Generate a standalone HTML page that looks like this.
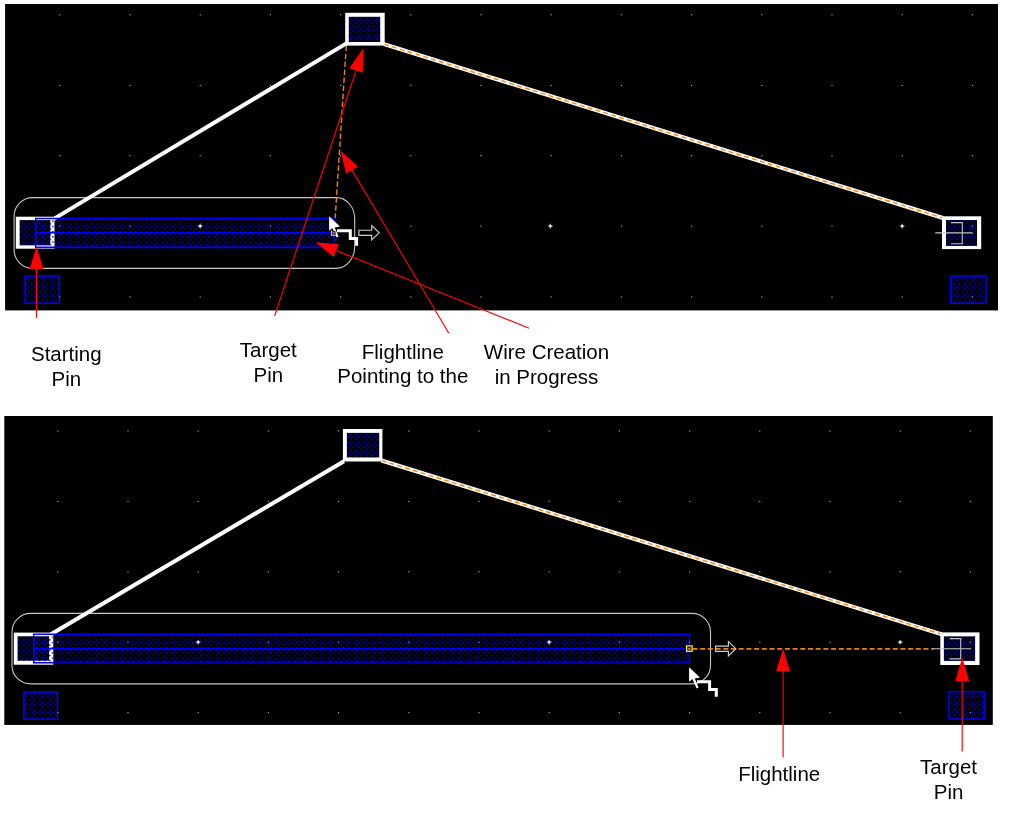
<!DOCTYPE html>
<html>
<head>
<meta charset="utf-8">
<title>Wire creation flightline</title>
<style>
html,body{margin:0;padding:0;background:#fff;}
body{width:1013px;height:820px;overflow:hidden;font-family:"Liberation Sans",sans-serif;}
svg{display:block;will-change:transform;}
text{font-family:"Liberation Sans",sans-serif;font-size:20.5px;fill:#000;text-anchor:middle;}
</style>
</head>
<body>
<svg width="1013" height="820" viewBox="0 0 1013 820">
<defs>
  <pattern id="d0" x="0.16" y="2.16" width="5.2" height="5.2" patternUnits="userSpaceOnUse"><rect x="0" y="0" width="1.38" height="1.38" fill="#0000ff"/><rect x="2.6" y="2.6" width="1.38" height="1.38" fill="#0000ff"/></pattern>
<pattern id="d1" x="0.16" y="2.16" width="5.2" height="5.2" patternUnits="userSpaceOnUse"><rect x="0" y="0" width="1.38" height="1.38" fill="#0000ff"/><rect x="2.6" y="2.6" width="1.38" height="1.38" fill="#0000ff"/></pattern>
<pattern id="d2" x="2.41" y="5.01" width="5.2" height="5.2" patternUnits="userSpaceOnUse"><rect x="0" y="0" width="1.38" height="1.38" fill="#0000ff"/><rect x="2.6" y="2.6" width="1.38" height="1.38" fill="#0000ff"/></pattern>
<pattern id="d3" x="1.81" y="2.31" width="5.2" height="5.2" patternUnits="userSpaceOnUse"><rect x="0" y="0" width="1.38" height="1.38" fill="#0000ff"/><rect x="2.6" y="2.6" width="1.38" height="1.38" fill="#0000ff"/></pattern>
<pattern id="d4" x="1.51" y="1.71" width="5.2" height="5.2" patternUnits="userSpaceOnUse"><rect x="0" y="0" width="1.38" height="1.38" fill="#0000ff"/><rect x="2.6" y="2.6" width="1.38" height="1.38" fill="#0000ff"/></pattern>
<pattern id="d5" x="2.11" y="1.81" width="5.2" height="5.2" patternUnits="userSpaceOnUse"><rect x="0" y="0" width="1.38" height="1.38" fill="#0000ff"/><rect x="2.6" y="2.6" width="1.38" height="1.38" fill="#0000ff"/></pattern>
<pattern id="d6" x="4.91" y="2.21" width="5.2" height="5.2" patternUnits="userSpaceOnUse"><rect x="0" y="0" width="1.38" height="1.38" fill="#0000ff"/><rect x="2.6" y="2.6" width="1.38" height="1.38" fill="#0000ff"/></pattern>
<pattern id="d7" x="4.91" y="2.21" width="5.2" height="5.2" patternUnits="userSpaceOnUse"><rect x="0" y="0" width="1.38" height="1.38" fill="#0000ff"/><rect x="2.6" y="2.6" width="1.38" height="1.38" fill="#0000ff"/></pattern>
<pattern id="d8" x="0.41" y="4.71" width="5.2" height="5.2" patternUnits="userSpaceOnUse"><rect x="0" y="0" width="1.38" height="1.38" fill="#0000ff"/><rect x="2.6" y="2.6" width="1.38" height="1.38" fill="#0000ff"/></pattern>
<pattern id="d9" x="4.51" y="4.51" width="5.2" height="5.2" patternUnits="userSpaceOnUse"><rect x="0" y="0" width="1.38" height="1.38" fill="#0000ff"/><rect x="2.6" y="2.6" width="1.38" height="1.38" fill="#0000ff"/></pattern>
<pattern id="d10" x="4.51" y="4.51" width="5.2" height="5.2" patternUnits="userSpaceOnUse"><rect x="0" y="0" width="1.38" height="1.38" fill="#0000ff"/><rect x="2.6" y="2.6" width="1.38" height="1.38" fill="#0000ff"/></pattern>
<pattern id="d11" x="4.51" y="4.51" width="5.2" height="5.2" patternUnits="userSpaceOnUse"><rect x="0" y="0" width="1.38" height="1.38" fill="#0000ff"/><rect x="2.6" y="2.6" width="1.38" height="1.38" fill="#0000ff"/></pattern>
<!-- grid dot -->
  <g id="gd"><rect x="-0.6" y="-0.6" width="1.2" height="1.2" fill="#9a9aae"/></g>
  <g id="gdb"><path d="M-2.3 0H2.3M0 -2.3V2.3" stroke="#a4a4b0" stroke-width="1.3"/><rect x="-1.1" y="-1.1" width="2.2" height="2.2" fill="#ececf0"/></g>
  <!-- pin body: white frame w/ dotted fill -->
  <!-- mouse pointer (tip at 0,0) -->
  <g id="cursor">
    <path d="M0 0 L0 14.6 L3.3 11.9 L7.5 21.2 L9.5 20.3 L5.6 11.2 L10.9 10.2 Z" fill="#fff"/>
  </g>
  <!-- stair / wire icon attached to cursor -->
  <g id="stair">
    <path d="M0 0 H13.3 V7.7 H19.6 V14.8" fill="none" stroke="#fff" stroke-width="3" stroke-linejoin="miter"/>
  </g>
  <!-- hollow arrow (left-mid at 0,0) -->
  <g id="harrow">
    <path d="M0.4 -2.6 H13.2 V-7.2 L20.7 0 L13.2 7.2 V2.6 H0.4 Z" fill="none" stroke="#cdcdd2" stroke-width="1.15" stroke-linejoin="miter"/>
  </g>
</defs>


<!-- TOP PANEL -->
<rect x="5.1" y="4" width="992.9" height="306.4" fill="#000"/>
<path d="M32.6 197.6 H336.2 A18.5 21 0 0 1 354.7 218.6 V246.4 A18.5 22 0 0 1 336.2 268.4 H32.6 A18.5 18.5 0 0 1 14.1 249.9 V216.1 A18.5 18.5 0 0 1 32.6 197.6 Z" fill="none" stroke="#c6c6c6" stroke-width="1.1"/>
<line x1="53" y1="219.4" x2="346" y2="43.6" stroke="#fff" stroke-width="4"/>
<line x1="384" y1="44.2" x2="943" y2="218" stroke="#fff" stroke-width="4"/>
<line x1="384" y1="44.2" x2="943" y2="218" stroke="#ff8408" stroke-width="1.4" stroke-dasharray="5 3.2"/>
<rect x="15.8" y="216.7" width="38.7" height="32.0" fill="#fff"/><rect x="19.7" y="220.1" width="30.6" height="25.2" fill="#00000c"/><rect x="19.7" y="220.1" width="30.6" height="25.2" fill="url(#d0)"/>
<rect x="36.4" y="220" width="297" height="26.4" fill="url(#d1)"/>
<line x1="34.95" y1="218.6" x2="334.75" y2="218.6" stroke="#0000ff" stroke-width="1.5"/><line x1="35.7" y1="232.6" x2="334.0" y2="232.6" stroke="#0000ff" stroke-width="1.8"/><line x1="34.95" y1="247.35" x2="334.75" y2="247.35" stroke="#0000ff" stroke-width="1.7"/><line x1="35.7" y1="218.6" x2="35.7" y2="247.35" stroke="#0000ff" stroke-width="1.5"/><line x1="334.0" y1="218.6" x2="334.0" y2="247.35" stroke="#0000ff" stroke-width="1.5"/>
<rect x="25.1" y="275.9" width="34.3" height="27.4" fill="#00000c"/><rect x="25.1" y="275.9" width="34.3" height="27.4" fill="url(#d2)" stroke="#0000ff" stroke-width="1.5"/>
<rect x="950.8" y="275.9" width="35.1" height="27.4" fill="#00000c"/><rect x="950.8" y="275.9" width="35.1" height="27.4" fill="url(#d3)" stroke="#0000ff" stroke-width="1.5"/>
<rect x="345.2" y="12.8" width="39.5" height="32.8" fill="#fff"/><rect x="348.8" y="16.8" width="31.4" height="25.2" fill="#00000c"/><rect x="348.8" y="16.8" width="31.4" height="25.2" fill="url(#d4)"/>
<rect x="942" y="216.3" width="39.2" height="32.8" fill="#fff"/><rect x="946" y="220" width="31.0" height="25.9" fill="#00000c"/><rect x="946" y="220" width="31.0" height="25.9" fill="url(#d5)"/>
<path d="M951 222.6 H962.3 V243.8 H951" fill="none" stroke="#c4c4c4" stroke-width="1.1"/>
<line x1="935.3" y1="232.9" x2="972.8" y2="232.9" stroke="#c4c4c4" stroke-width="1.1"/>
<use href="#gd" x="59.8" y="14.8"/>
<use href="#gd" x="130.0" y="14.8"/>
<use href="#gd" x="200.2" y="14.8"/>
<use href="#gd" x="270.4" y="14.8"/>
<use href="#gd" x="340.6" y="14.8"/>
<use href="#gd" x="410.8" y="14.8"/>
<use href="#gd" x="481.0" y="14.8"/>
<use href="#gd" x="551.2" y="14.8"/>
<use href="#gd" x="621.4" y="14.8"/>
<use href="#gd" x="691.6" y="14.8"/>
<use href="#gd" x="761.8" y="14.8"/>
<use href="#gd" x="832.0" y="14.8"/>
<use href="#gd" x="902.2" y="14.8"/>
<use href="#gd" x="972.4" y="14.8"/>
<use href="#gd" x="59.8" y="85.4"/>
<use href="#gd" x="130.0" y="85.4"/>
<use href="#gd" x="200.2" y="85.4"/>
<use href="#gd" x="270.4" y="85.4"/>
<use href="#gd" x="340.6" y="85.4"/>
<use href="#gd" x="410.8" y="85.4"/>
<use href="#gd" x="481.0" y="85.4"/>
<use href="#gd" x="551.2" y="85.4"/>
<use href="#gd" x="621.4" y="85.4"/>
<use href="#gd" x="691.6" y="85.4"/>
<use href="#gd" x="761.8" y="85.4"/>
<use href="#gd" x="832.0" y="85.4"/>
<use href="#gd" x="902.2" y="85.4"/>
<use href="#gd" x="972.4" y="85.4"/>
<use href="#gd" x="59.8" y="155.7"/>
<use href="#gd" x="130.0" y="155.7"/>
<use href="#gd" x="200.2" y="155.7"/>
<use href="#gd" x="270.4" y="155.7"/>
<use href="#gd" x="340.6" y="155.7"/>
<use href="#gd" x="410.8" y="155.7"/>
<use href="#gd" x="481.0" y="155.7"/>
<use href="#gd" x="551.2" y="155.7"/>
<use href="#gd" x="621.4" y="155.7"/>
<use href="#gd" x="691.6" y="155.7"/>
<use href="#gd" x="761.8" y="155.7"/>
<use href="#gd" x="832.0" y="155.7"/>
<use href="#gd" x="902.2" y="155.7"/>
<use href="#gd" x="972.4" y="155.7"/>
<use href="#gd" x="59.8" y="226.1"/>
<use href="#gd" x="130.0" y="226.1"/>
<use href="#gdb" x="200.2" y="226.1"/>
<use href="#gd" x="270.4" y="226.1"/>
<use href="#gd" x="410.8" y="226.1"/>
<use href="#gd" x="481.0" y="226.1"/>
<use href="#gdb" x="550.4" y="226.1"/>
<use href="#gd" x="621.4" y="226.1"/>
<use href="#gd" x="691.6" y="226.1"/>
<use href="#gd" x="761.8" y="226.1"/>
<use href="#gd" x="832.0" y="226.1"/>
<use href="#gdb" x="902.2" y="226.1"/>
<use href="#gd" x="972.4" y="226.1"/>
<use href="#gd" x="59.8" y="296.9"/>
<use href="#gd" x="130.0" y="296.9"/>
<use href="#gd" x="200.2" y="296.9"/>
<use href="#gd" x="270.4" y="296.9"/>
<use href="#gd" x="340.6" y="296.9"/>
<use href="#gd" x="410.8" y="296.9"/>
<use href="#gd" x="481.0" y="296.9"/>
<use href="#gd" x="551.2" y="296.9"/>
<use href="#gd" x="621.4" y="296.9"/>
<use href="#gd" x="691.6" y="296.9"/>
<use href="#gd" x="761.8" y="296.9"/>
<use href="#gd" x="832.0" y="296.9"/>
<use href="#gd" x="902.2" y="296.9"/>
<use href="#gd" x="972.4" y="296.9"/>
<line x1="346.4" y1="44" x2="335.2" y2="218" stroke="#e58410" stroke-width="1.4" stroke-dasharray="5.4 2.6" stroke-dashoffset="6.3"/>
<use href="#cursor" x="329.1" y="216.2"/>
<use href="#stair" x="337" y="230.85"/>
<rect x="331.6" y="231.2" width="4" height="4.2" fill="#000"/>
<line x1="334" y1="231.2" x2="334" y2="236" stroke="#0000ff" stroke-width="1.5"/>
<line x1="331.6" y1="232.6" x2="334" y2="232.6" stroke="#0000ff" stroke-width="1.5"/>
<path d="M331.6 230.4 V235.3 H335.9" fill="none" stroke="#ffff00" stroke-width="1.1"/>
<rect x="332.9" y="231.8" width="1.9" height="1.7" fill="#e8820c"/>
<use href="#harrow" x="358.5" y="232.8"/>
<line x1="36.5" y1="317.9" x2="36.5" y2="269.0" stroke="#ff0000" stroke-width="1.15"/><polygon points="36.5,246.6 43.4,269.0 29.6,269.0" fill="#ff0000"/>
<line x1="274.6" y1="316" x2="356.0" y2="70.5" stroke="#ff0000" stroke-width="1.15"/><polygon points="363.4,48.3 362.7,72.7 349.3,68.3" fill="#ff0000"/>
<line x1="448.7" y1="333" x2="352.0" y2="170.1" stroke="#ff0000" stroke-width="1.15"/><polygon points="340.6,150.8 357.9,166.6 346.1,173.6" fill="#ff0000"/>
<line x1="529" y1="328.2" x2="336.3" y2="250.6" stroke="#ff0000" stroke-width="1.15"/><polygon points="315.5,242.2 338.8,244.2 333.7,256.9" fill="#ff0000"/>
<text x="66.3" y="360.9">Starting</text><text x="66.3" y="385.7">Pin</text>
<text x="268.3" y="356.9">Target</text><text x="268.3" y="381.7">Pin</text>
<text x="402.8" y="358.5">Flightline</text><text x="402.8" y="383.3">Pointing to the</text>
<text x="546.5" y="359.1">Wire Creation</text><text x="546.5" y="383.9">in Progress</text>
<!-- BOTTOM PANEL -->
<rect x="4.3" y="416" width="988.5" height="308.9" fill="#000"/>
<rect x="12" y="613.4" width="698.5" height="70.5" rx="18.5" ry="18.5" fill="none" stroke="#c6c6c6" stroke-width="1.1"/>
<line x1="51" y1="634.2" x2="344" y2="461.2" stroke="#fff" stroke-width="4"/>
<line x1="381.5" y1="460.5" x2="942" y2="634.3" stroke="#fff" stroke-width="4"/>
<line x1="381.5" y1="460.5" x2="942" y2="634.3" stroke="#ff8408" stroke-width="1.4" stroke-dasharray="5 3.2"/>
<rect x="13.8" y="632.6" width="39.5" height="32.1" fill="#fff"/><rect x="17.6" y="636.3" width="31.5" height="24.4" fill="#00000c"/><rect x="17.6" y="636.3" width="31.5" height="24.4" fill="url(#d6)"/>
<rect x="34.4" y="635.8" width="654.4" height="25.8" fill="url(#d7)"/>
<line x1="32.95" y1="634.3" x2="690.25" y2="634.3" stroke="#0000ff" stroke-width="1.5"/><line x1="33.7" y1="648.6" x2="689.5" y2="648.6" stroke="#0000ff" stroke-width="1.8"/><line x1="32.95" y1="662.7" x2="690.25" y2="662.7" stroke="#0000b4" stroke-width="1.6"/><line x1="33.7" y1="634.3" x2="33.7" y2="662.7" stroke="#0000ff" stroke-width="1.5"/><line x1="689.5" y1="634.3" x2="689.5" y2="662.7" stroke="#0000ff" stroke-width="1.5"/>
<rect x="23.9" y="691.9" width="33.5" height="27.3" fill="#00000c"/><rect x="23.9" y="691.9" width="33.5" height="27.3" fill="url(#d8)" stroke="#0000ff" stroke-width="1.5"/>
<rect x="949" y="691.7" width="35.2" height="27.3" fill="#00000c"/><rect x="949" y="691.7" width="35.2" height="27.3" fill="url(#d9)" stroke="#0000ff" stroke-width="1.5"/>
<rect x="342.9" y="429" width="39.5" height="32.5" fill="#fff"/><rect x="346.9" y="432.9" width="32.3" height="24.5" fill="#00000c"/><rect x="346.9" y="432.9" width="32.3" height="24.5" fill="url(#d10)"/>
<rect x="940.3" y="632.4" width="39.2" height="32.6" fill="#fff"/><rect x="943.9" y="636.4" width="31.2" height="24.5" fill="#00000c"/><rect x="943.9" y="636.4" width="31.2" height="24.5" fill="url(#d11)"/>
<path d="M949.6 638.6 H960.7 V658.9 H949.6" fill="none" stroke="#c4c4c4" stroke-width="1.1"/>
<use href="#gd" x="57.8" y="431.0"/>
<use href="#gd" x="128.0" y="431.0"/>
<use href="#gd" x="198.2" y="431.0"/>
<use href="#gd" x="268.4" y="431.0"/>
<use href="#gd" x="338.6" y="431.0"/>
<use href="#gd" x="408.8" y="431.0"/>
<use href="#gd" x="479.0" y="431.0"/>
<use href="#gd" x="549.2" y="431.0"/>
<use href="#gd" x="619.4" y="431.0"/>
<use href="#gd" x="689.6" y="431.0"/>
<use href="#gd" x="759.8" y="431.0"/>
<use href="#gd" x="830.0" y="431.0"/>
<use href="#gd" x="900.2" y="431.0"/>
<use href="#gd" x="970.4" y="431.0"/>
<use href="#gd" x="57.8" y="501.4"/>
<use href="#gd" x="128.0" y="501.4"/>
<use href="#gd" x="198.2" y="501.4"/>
<use href="#gd" x="268.4" y="501.4"/>
<use href="#gd" x="338.6" y="501.4"/>
<use href="#gd" x="408.8" y="501.4"/>
<use href="#gd" x="479.0" y="501.4"/>
<use href="#gd" x="549.2" y="501.4"/>
<use href="#gd" x="619.4" y="501.4"/>
<use href="#gd" x="689.6" y="501.4"/>
<use href="#gd" x="759.8" y="501.4"/>
<use href="#gd" x="830.0" y="501.4"/>
<use href="#gd" x="900.2" y="501.4"/>
<use href="#gd" x="970.4" y="501.4"/>
<use href="#gd" x="57.8" y="571.8"/>
<use href="#gd" x="128.0" y="571.8"/>
<use href="#gd" x="198.2" y="571.8"/>
<use href="#gd" x="268.4" y="571.8"/>
<use href="#gd" x="338.6" y="571.8"/>
<use href="#gd" x="408.8" y="571.8"/>
<use href="#gd" x="479.0" y="571.8"/>
<use href="#gd" x="549.2" y="571.8"/>
<use href="#gd" x="619.4" y="571.8"/>
<use href="#gd" x="689.6" y="571.8"/>
<use href="#gd" x="759.8" y="571.8"/>
<use href="#gd" x="830.0" y="571.8"/>
<use href="#gd" x="900.2" y="571.8"/>
<use href="#gd" x="970.4" y="571.8"/>
<use href="#gd" x="57.8" y="642.2"/>
<use href="#gd" x="128.0" y="642.2"/>
<use href="#gdb" x="198.2" y="642.2"/>
<use href="#gd" x="268.4" y="642.2"/>
<use href="#gd" x="338.6" y="642.2"/>
<use href="#gd" x="408.8" y="642.2"/>
<use href="#gd" x="479.0" y="642.2"/>
<use href="#gdb" x="549.2" y="642.2"/>
<use href="#gd" x="619.4" y="642.2"/>
<use href="#gd" x="689.6" y="642.2"/>
<use href="#gd" x="759.8" y="642.2"/>
<use href="#gd" x="830.0" y="642.2"/>
<use href="#gdb" x="900.2" y="642.2"/>
<use href="#gd" x="970.4" y="642.2"/>
<use href="#gd" x="57.8" y="712.6"/>
<use href="#gd" x="128.0" y="712.6"/>
<use href="#gd" x="198.2" y="712.6"/>
<use href="#gd" x="268.4" y="712.6"/>
<use href="#gd" x="338.6" y="712.6"/>
<use href="#gd" x="408.8" y="712.6"/>
<use href="#gd" x="479.0" y="712.6"/>
<use href="#gd" x="549.2" y="712.6"/>
<use href="#gd" x="619.4" y="712.6"/>
<use href="#gd" x="689.6" y="712.6"/>
<use href="#gd" x="759.8" y="712.6"/>
<use href="#gd" x="830.0" y="712.6"/>
<use href="#gd" x="900.2" y="712.6"/>
<use href="#gd" x="970.4" y="712.6"/>
<line x1="692.5" y1="648.8" x2="934" y2="648.8" stroke="#e8820c" stroke-width="1.8" stroke-dasharray="5 2.7"/>
<line x1="933.7" y1="648.8" x2="971.3" y2="648.8" stroke="#c4c4c4" stroke-width="1.1"/>
<rect x="686.6" y="645.9" width="5.5" height="5.4" fill="none" stroke="#ffff00" stroke-width="1.2"/>
<rect x="688.3" y="647.8" width="2.2" height="2.2" fill="#e8820c"/>
<use href="#harrow" x="715.2" y="648.7"/>
<use href="#cursor" x="689.1" y="667.2"/>
<path d="M697 681.8 H709.6 V689.5 H716.3 V696.8" fill="none" stroke="#fff" stroke-width="3" stroke-linejoin="miter"/>
<line x1="783.1" y1="757.6" x2="783.1" y2="671.1" stroke="#ff0000" stroke-width="1.15"/><polygon points="783.1,648.7 790.0,671.1 776.2,671.1" fill="#ff0000"/>
<line x1="962.2" y1="751.4" x2="962.2" y2="681.0" stroke="#ff0000" stroke-width="1.15"/><polygon points="962.2,657.4 969.1,681.0 955.4,681.0" fill="#ff0000"/>
<text x="779.2" y="780.6">Flightline</text>
<text x="948.6" y="773.7">Target</text><text x="948.6" y="798.5">Pin</text>
</svg>
</body>
</html>
